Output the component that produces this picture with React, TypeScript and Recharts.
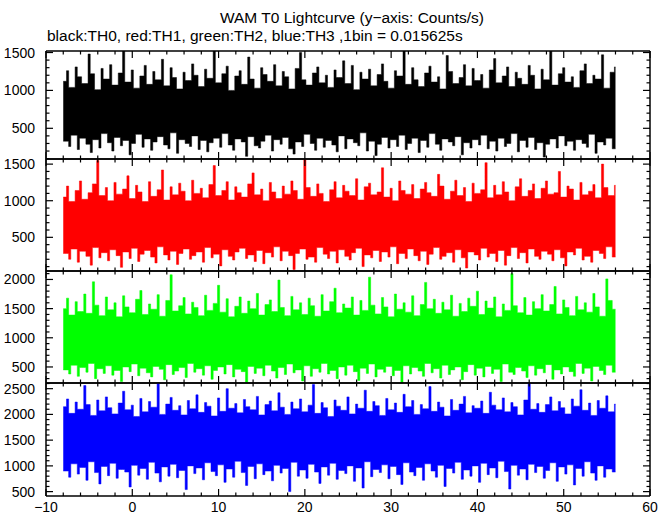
import React from "react";
import { ComposedChart, Area, XAxis, YAxis } from "recharts";

// time axis: data starts at -8 s, one high/low pair every 0.5 s
const TIME_START = -8;
const HALF_STEP = 0.25;
const X_TICKS = [-10, -8, -6, -4, -2, 0, 2, 4, 6, 8, 10, 12, 14, 16, 18, 20, 22, 24, 26, 28, 30, 32, 34, 36, 38, 40, 42, 44, 46, 48, 50, 52, 54, 56, 58, 60];

// upper / lower excursions (Counts/s)
const TH0_HIGH = [
  1120, 1260, 1040, 1310, 1180, 1090, 1480, 1220, 1010, 1290, 1150, 1340, 1070, 1230, 1520, 1110,
  1270, 1030, 1190, 1330, 1080, 1250, 1140, 1410, 1060, 1300, 1170, 1020, 1240, 1130, 1350, 1200,
  1050, 1280, 1160, 1560, 1100, 1220, 1320, 1000, 1190, 1260, 1080, 1440, 1150, 1030, 1300, 1210,
  1120, 1340, 1060, 1250, 1180, 1020, 1290, 1500, 1140, 1070, 1230, 1310, 1100, 1200, 1040, 1270,
  1170, 1390, 1090, 1330, 1010, 1240, 1150, 1280, 1060, 1210, 1350, 1120, 1030, 1260, 1190, 1540,
  1080, 1300, 1140, 1050, 1230, 1320, 1110, 1180, 1020, 1460, 1250, 1090, 1170, 1340, 1060, 1290,
  1130, 1210, 1030, 1270, 1420, 1100, 1190, 1310, 1050, 1240, 1160, 1080, 1330, 1200, 1020, 1280,
  1140, 1530, 1070, 1220, 1300, 1110, 1180, 1040, 1260, 1350, 1090, 1200, 1150, 1470, 1030, 1240,
  1310,
];
const TH0_LOW = [
  330, 260, 410, 220, 370, 290, 180, 350, 240, 430, 310, 200, 380, 270, 340, 150,
  300, 420, 250, 360, 210, 320, 390, 280, 230, 440, 170, 350, 300, 260, 400, 220,
  340, 190, 310, 370, 250, 430, 280, 210, 360, 320, 130, 390, 270, 240, 330, 410,
  200, 350, 290, 380, 230, 160, 320, 260, 420, 300, 210, 370, 250, 340, 280, 190,
  400, 230, 360, 310, 270, 440, 200, 330, 140, 290, 380, 240, 350, 260, 410, 220,
  300, 370, 180, 340, 250, 430, 290, 210, 360, 320, 270, 390, 150, 310, 240, 350,
  280, 410, 230, 330, 200, 370, 260, 300, 430, 190, 340, 250, 380, 220, 310, 120,
  290, 360, 240, 400, 270, 330, 210, 350, 300, 250, 420, 170, 320, 280, 370, 230,
];

const TH1_HIGH = [
  1050, 1200, 990, 1140, 1270, 1020, 1110, 1230, 1550, 1070, 1180, 1000, 1250, 1090, 1160, 1340,
  1030, 1210, 1120, 990, 1260, 1060, 1150, 1420, 1010, 1190, 1080, 1240, 1130, 1000, 1280, 1100,
  1170, 1040, 1220, 1480, 1070, 1140, 1260, 1010, 1190, 1110, 1050, 1230, 1380, 1080, 1160, 1000,
  1250, 1120, 1030, 1200, 1090, 1270, 1140, 1020, 1560, 1180, 1060, 1230, 1100, 990, 1150, 1260,
  1040, 1210, 1130, 1070, 1300, 1010, 1190, 1240, 1080, 1120, 1450, 1050, 1170, 1000, 1270, 1140,
  1090, 1220, 1030, 1160, 1250, 1110, 1060, 1360, 1200, 1020, 1130, 1280, 1070, 1180, 990, 1240,
  1100, 1150, 1520, 1040, 1210, 1080, 1260, 1120, 1000, 1190, 1300, 1060, 1140, 1230, 1030, 1170,
  1270, 1090, 1110, 1400, 1050, 1200, 1160, 1010, 1250, 1080, 1130, 1220, 1040, 1500, 1180, 1070,
  1210,
];
const TH1_LOW = [
  280, 200, 340, 160, 310, 240, 120, 360, 220, 290, 180, 330, 250, 90, 300, 210,
  350, 170, 270, 320, 230, 150, 370, 260, 190, 310, 130, 280, 340, 200, 250, 300,
  160, 360, 220, 270, 110, 330, 240, 190, 300, 350, 210, 260, 170, 320, 140, 290,
  230, 370, 180, 310, 250, 60, 280, 340, 200, 230, 160, 360, 270, 210, 310, 150,
  330, 240, 190, 290, 350, 100, 260, 220, 320, 170, 300, 230, 370, 140, 280, 210,
  340, 250, 180, 310, 130, 270, 360, 200, 240, 290, 160, 330, 220, 80, 300, 260,
  190, 350, 230, 280, 170, 320, 120, 250, 360, 210, 290, 150, 340, 240, 200, 310,
  270, 180, 330, 220, 110, 300, 260, 350, 190, 240, 160, 320, 280, 210, 370, 230,
];

const TH2_HIGH = [
  1500, 1680, 1390, 1620, 1450, 1750, 1420, 1960, 1560, 1380, 1700, 1480, 1600, 1360, 1720, 1530,
  1430, 1660, 1810, 1400, 1580, 1490, 1740, 1370, 1640, 2080, 1460, 1550, 1690, 1410, 1610, 1520,
  1380, 1730, 1470, 1590, 1900, 1440, 1670, 1360, 1540, 1700, 1420, 1630, 1500, 1760, 1390, 1570,
  1650, 1450, 1990, 1520, 1380, 1710, 1480, 1600, 1400, 1680, 1550, 1370, 1740, 1460, 1620, 1850,
  1430, 1580, 1510, 1700, 1390, 1640, 1470, 2040, 1560, 1410, 1690, 1530, 1360, 1750, 1490, 1600,
  1440, 1720, 1380, 1570, 1950, 1500, 1660, 1420, 1610, 1480, 1730, 1370, 1590, 1450, 1680, 1540,
  1800, 1400, 1630, 1510, 1700, 1360, 1580, 1470, 2100, 1550, 1430, 1690, 1390, 1620, 1500, 1740,
  1460, 1570, 1880, 1410, 1650, 1520, 1380, 1710, 1480, 1600, 1440, 1760, 1530, 1370, 2010, 1640,
  1490,
];
const TH2_LOW = [
  450, 380, 530, 340, 490, 410, 560, 300, 470, 390, 520, 360, 440, 250, 500, 420,
  550, 350, 480, 400, 330, 510, 460, 280, 540, 370, 430, 490, 320, 560, 410, 470,
  360, 520, 290, 440, 500, 380, 540, 330, 460, 420, 240, 510, 390, 480, 350, 530,
  430, 310, 490, 370, 550, 400, 450, 260, 520, 340, 470, 410, 560, 380, 440, 300,
  500, 360, 530, 420, 270, 480, 390, 550, 330, 460, 410, 510, 350, 440, 230, 520,
  380, 490, 430, 340, 560, 400, 470, 310, 530, 370, 450, 500, 280, 420, 540, 360,
  480, 330, 510, 390, 460, 250, 550, 410, 370, 490, 430, 320, 520, 360, 470, 400,
  540, 290, 450, 380, 500, 420, 340, 560, 390, 480, 260, 510, 440, 370, 530, 410,
];

const TH3_HIGH = [
  2150, 2300, 2020, 2240, 2100, 2560, 2190, 1980, 2280, 2070, 2340, 2130, 2010, 2220, 2450, 2090,
  2180, 1960, 2310, 2050, 2250, 2140, 2600, 2000, 2200, 2330, 2080, 2170, 1990, 2270, 2110, 2380,
  2040, 2230, 2160, 1970, 2320, 2060, 2500, 2120, 2210, 2030, 2290, 2150, 2090, 2350, 1990, 2190,
  2260, 2070, 2420, 2140, 2000, 2240, 2110, 2300, 2050, 2180, 2580, 2020, 2230, 2130, 1960, 2280,
  2160, 2080, 2340, 2010, 2200, 2120, 2470, 2060, 2250, 2170, 1980, 2310, 2090, 2220, 2040, 2390,
  2150, 2270, 2000, 2190, 2110, 2540, 2060, 2240, 2140, 1970, 2290, 2080, 2200, 2350, 2030, 2170,
  2120, 2260, 2020, 2430, 2180, 2090, 2320, 2050, 2230, 2150, 1990, 2280, 2600, 2100, 2210, 2040,
  2190, 2340, 2070, 2250, 2130, 2010, 2300, 2160, 2480, 2080, 2220, 1980, 2270, 2120, 2360, 2050,
  2200,
];
const TH3_LOW = [
  900, 780, 1040, 840, 970, 720, 1080, 870, 650, 990, 810, 1050, 760, 930, 880, 590,
  1010, 820, 950, 740, 1070, 860, 690, 980, 800, 1030, 770, 910, 540, 1000, 850, 960,
  730, 1060, 890, 810, 1020, 680, 940, 780, 1090, 870, 620, 990, 750, 1040, 830, 900,
  710, 1010, 860, 950, 500, 1070, 800, 920, 760, 1030, 880, 660, 980, 820, 1050, 740,
  910, 850, 1000, 700, 960, 570, 1080, 790, 930, 870, 1020, 750, 990, 830, 640, 1060,
  880, 810, 970, 720, 1040, 900, 780, 1010, 600, 950, 860, 1070, 740, 920, 800, 1000,
  680, 1050, 830, 960, 770, 1090, 890, 550, 1010, 820, 940, 730, 1030, 870, 990, 760,
  910, 1060, 700, 980, 840, 1020, 630, 950, 800, 1080, 860, 720, 1000, 780, 940, 880,
];

// y ranges and labelled ticks per panel
const TH0_RANGE = [95, 1520];
const TH1_RANGE = [40, 1570];
const TH2_RANGE = [225, 2145];
const TH3_RANGE = [415, 2610];
const TH0_LABELS = [500, 1000, 1500];
const TH1_LABELS = [500, 1000, 1500];
const TH2_LABELS = [500, 1000, 1500, 2000];
const TH3_LABELS = [500, 1000, 1500, 2000, 2500];

const FONT = "'Liberation Sans', Arial, Helvetica, sans-serif";
const PLOT_LEFT = 46;
const PLOT_RIGHT = 650;
const PANEL_EDGES = [51, 159, 271, 383, 496];
const PAD = 10;

// alternate high/low bins; each bin is a column running from its own value
// back into the core that its neighbours also cover
function buildRows(high: number[], low: number[]) {
  const rows: { t: number; col: [number, number] }[] = [];
  const n = high.length + low.length;
  for (let k = 0; k < n; k++) {
    const i = Math.floor(k / 2);
    let col: [number, number];
    if (k % 2 === 0) {
      const ls = low.slice(Math.max(0, i - 1), i + 1);
      col = [Math.max(...ls), high[i]];
    } else {
      const hs = high.slice(i, i + 2);
      col = [low[i], Math.min(...hs)];
    }
    rows.push({ t: TIME_START + k * HALF_STEP, col });
  }
  return rows;
}

function minorTicks(range: number[]) {
  const out: number[] = [];
  for (let v = Math.ceil(range[0] / 100) * 100; v <= range[1]; v += 100) out.push(v);
  return out;
}

const fmtX = (v: number) => (v < 0 ? "\u2212" + Math.abs(v) : String(v));

const PANELS = [
  { color: "#000000", rows: buildRows(TH0_HIGH, TH0_LOW), range: TH0_RANGE, labels: TH0_LABELS },
  { color: "#ff0000", rows: buildRows(TH1_HIGH, TH1_LOW), range: TH1_RANGE, labels: TH1_LABELS },
  { color: "#00ff00", rows: buildRows(TH2_HIGH, TH2_LOW), range: TH2_RANGE, labels: TH2_LABELS },
  { color: "#0000ff", rows: buildRows(TH3_HIGH, TH3_LOW), range: TH3_RANGE, labels: TH3_LABELS },
];

function Panel({ idx }: { idx: number }) {
  const p = PANELS[idx];
  const top = PANEL_EDGES[idx];
  const bottom = PANEL_EDGES[idx + 1];
  const last = idx === PANELS.length - 1;
  const extra = last ? 18 : 0;
  const h = bottom - top + PAD * 2 + extra;

  const xTick = (dir: number, label: boolean) => (props: any) => {
    const { x, y, payload } = props;
    const major = payload.value % 10 === 0;
    const len = major ? 7 : 3.5;
    return (
      <g>
        <line x1={x} x2={x} y1={y} y2={y + dir * len} stroke="#000" strokeWidth={1.2} />
        {label && major && (
          <text x={x} y={y + 16} textAnchor="middle" fontSize={14} fontFamily={FONT} fill="#000">
            {fmtX(payload.value)}
          </text>
        )}
      </g>
    );
  };

  const yTick = (dir: number, label: boolean) => (props: any) => {
    const { x, y, payload } = props;
    const major = payload.value % 500 === 0;
    const len = major ? 7 : 3.5;
    return (
      <g>
        <line x1={x} x2={x + dir * len} y1={y} y2={y} stroke="#000" strokeWidth={1.2} />
        {label && major && p.labels.includes(payload.value) && (
          <text x={x - 11} y={y + 5} textAnchor="end" fontSize={14} fontFamily={FONT} fill="#000">
            {payload.value}
          </text>
        )}
      </g>
    );
  };

  const axisLine = { stroke: "#000", strokeWidth: 1.5 };
  const yTicks = minorTicks(p.range);

  return (
    <div style={{ position: "absolute", left: 0, top: top - PAD, width: 672, height: h }}>
      <ComposedChart
        width={672}
        height={h}
        data={p.rows}
        margin={{ top: PAD - 1, bottom: PAD - 1 + extra, left: PLOT_LEFT - 1, right: 672 - PLOT_RIGHT - 1 }}
      >
        <XAxis
          dataKey="t"
          type="number"
          domain={[-10, 60]}
          allowDataOverflow
          ticks={X_TICKS}
          interval={0}
          height={1}
          tickSize={0}
          tickMargin={0}
          tickLine={false}
          axisLine={axisLine}
          tick={xTick(-1, last)}
        />
        <XAxis
          xAxisId="top"
          orientation="top"
          dataKey="t"
          type="number"
          domain={[-10, 60]}
          allowDataOverflow
          ticks={X_TICKS}
          interval={0}
          height={1}
          tickSize={0}
          tickMargin={0}
          tickLine={false}
          axisLine={axisLine}
          tick={xTick(1, false)}
        />
        <YAxis
          type="number"
          domain={p.range}
          allowDataOverflow
          ticks={yTicks}
          interval={0}
          width={1}
          tickSize={0}
          tickMargin={0}
          tickLine={false}
          axisLine={axisLine}
          tick={yTick(1, true)}
        />
        <YAxis
          yAxisId="right"
          orientation="right"
          type="number"
          domain={p.range}
          allowDataOverflow
          ticks={yTicks}
          interval={0}
          width={1}
          tickSize={0}
          tickMargin={0}
          tickLine={false}
          axisLine={axisLine}
          tick={yTick(-1, false)}
        />
        <Area
          dataKey="col"
          type="step"
          stroke={p.color}
          strokeWidth={0.5}
          fill={p.color}
          fillOpacity={1}
          isAnimationActive={false}
        />
      </ComposedChart>
    </div>
  );
}

export default function App() {
  return (
    <div
      style={{
        position: "absolute",
        left: 0,
        top: 0,
        width: 672,
        height: 515,
        overflow: "hidden",
        background: "#fff",
        fontFamily: FONT,
        color: "#000",
      }}
    >
      <div style={{ position: "absolute", left: 52, top: 10, width: 600, textAlign: "center", fontSize: 15.5, lineHeight: "16px" }}>
        WAM T0 Lightcurve (y{"\u2212"}axis: Counts/s)
      </div>
      <div style={{ position: "absolute", left: 47, top: 28, fontSize: 15.5, lineHeight: "16px", whiteSpace: "nowrap" }}>
        black:TH0, red:TH1, green:TH2, blue:TH3 ,1bin = 0.015625s
      </div>
      {PANELS.map((_, i) => (
        <Panel key={i} idx={i} />
      ))}
    </div>
  );
}
